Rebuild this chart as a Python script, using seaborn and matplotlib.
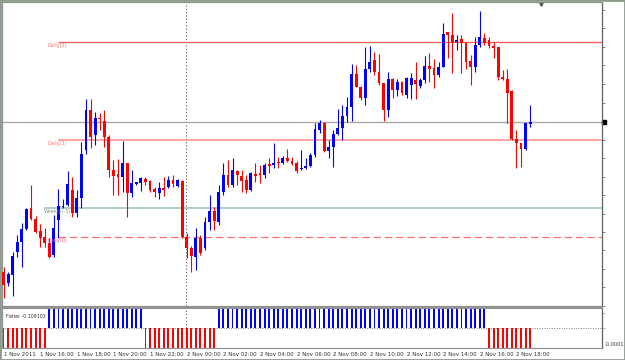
import matplotlib
matplotlib.use("Agg")
import matplotlib.pyplot as plt
import matplotlib.transforms as mtransforms
from matplotlib.patches import Rectangle
import seaborn as sns
import numpy as np
import pandas as pd

# M15 candles, 1 Nov 2011 14:00 -> 2 Nov 2011 18:45
opens = [1.3728, 1.3717, 1.3725, 1.3748, 1.3758, 1.3771, 1.3792, 1.3781, 1.3769, 1.3763,
         1.3757, 1.3745, 1.3780, 1.3793, 1.3795, 1.3810, 1.3787, 1.3802, 1.3850, 1.3890,
         1.3865, 1.3882, 1.3879, 1.3863, 1.3830, 1.3826, 1.3823, 1.3837, 1.3807, 1.3816,
         1.3817, 1.3821, 1.3819, 1.3811, 1.3807, 1.3812, 1.3813, 1.3820, 1.3814, 1.3819,
         1.3763, 1.3752, 1.3743, 1.3762, 1.3752, 1.3778, 1.3789, 1.3778, 1.3808, 1.3825,
         1.3815, 1.3829, 1.3824, 1.3820, 1.3810, 1.3826, 1.3827, 1.3825, 1.3836, 1.3835,
         1.3838, 1.3837, 1.3842, 1.3839, 1.3837, 1.3831, 1.3832, 1.3834, 1.3845, 1.3870,
         1.3877, 1.3849, 1.3853, 1.3866, 1.3872, 1.3884, 1.3893, 1.3926, 1.3913, 1.3902,
         1.3931, 1.3940, 1.3928, 1.3917, 1.3890, 1.3921, 1.3910, 1.3918, 1.3905, 1.3915,
         1.3920, 1.3914, 1.3920, 1.3934, 1.3932, 1.3925, 1.3933, 1.3968, 1.3965, 1.3958,
         1.3961, 1.3957, 1.3939, 1.3933, 1.3955, 1.3962, 1.3960, 1.3954, 1.3953, 1.3923,
         1.3921, 1.3909, 1.3861, 1.3857, 1.3851, 1.3876]
highs = [1.3733, 1.3728, 1.3748, 1.3765, 1.3777, 1.3792, 1.3815, 1.3784, 1.3776, 1.3772,
         1.3762, 1.3785, 1.3811, 1.3801, 1.3829, 1.3823, 1.3810, 1.3858, 1.3901, 1.3901,
         1.3888, 1.3887, 1.3890, 1.3865, 1.3840, 1.3841, 1.3859, 1.3837, 1.3830, 1.3818,
         1.3823, 1.3823, 1.3820, 1.3813, 1.3818, 1.3823, 1.3824, 1.3825, 1.3821, 1.3820,
         1.3767, 1.3754, 1.3772, 1.3765, 1.3783, 1.3805, 1.3793, 1.3815, 1.3837, 1.3840,
         1.3842, 1.3830, 1.3830, 1.3825, 1.3828, 1.3837, 1.3835, 1.3837, 1.3842, 1.3857,
         1.3843, 1.3844, 1.3851, 1.3843, 1.3839, 1.3850, 1.3842, 1.3847, 1.3877, 1.3880,
         1.3878, 1.3860, 1.3870, 1.3891, 1.3895, 1.3903, 1.3936, 1.3935, 1.3914, 1.3953,
         1.3954, 1.3948, 1.3946, 1.3917, 1.3928, 1.3922, 1.3921, 1.3919, 1.3923, 1.3927,
         1.3938, 1.3922, 1.3944, 1.3947, 1.3941, 1.3938, 1.3977, 1.3968, 1.3987, 1.3965,
         1.3965, 1.3958, 1.3945, 1.3963, 1.3989, 1.3967, 1.3963, 1.3958, 1.3953, 1.3930,
         1.3931, 1.3910, 1.3870, 1.3857, 1.3877, 1.3895]
lows = [1.3702, 1.3714, 1.3704, 1.3743, 1.3733, 1.3770, 1.3780, 1.3767, 1.3753, 1.3753,
        1.3742, 1.3743, 1.3762, 1.3792, 1.3794, 1.3783, 1.3783, 1.3792, 1.3846, 1.3852,
        1.3855, 1.3870, 1.3853, 1.3823, 1.3805, 1.3805, 1.3808, 1.3783, 1.3803, 1.3815,
        1.3809, 1.3815, 1.3808, 1.3803, 1.3801, 1.3804, 1.3812, 1.3813, 1.3813, 1.3762,
        1.3742, 1.3728, 1.3730, 1.3745, 1.3750, 1.3770, 1.3770, 1.3775, 1.3805, 1.3813,
        1.3813, 1.3815, 1.3808, 1.3807, 1.3809, 1.3818, 1.3817, 1.3822, 1.3827, 1.3832,
        1.3832, 1.3836, 1.3838, 1.3835, 1.3827, 1.3830, 1.3831, 1.3833, 1.3843, 1.3867,
        1.3848, 1.3842, 1.3833, 1.3865, 1.3860, 1.3878, 1.3879, 1.3913, 1.3900, 1.3895,
        1.3928, 1.3925, 1.3915, 1.3879, 1.3883, 1.3902, 1.3904, 1.3905, 1.3902, 1.3901,
        1.3901, 1.3912, 1.3917, 1.3918, 1.3912, 1.3923, 1.3933, 1.3942, 1.3927, 1.3950,
        1.3927, 1.3931, 1.3915, 1.3928, 1.3953, 1.3955, 1.3952, 1.3942, 1.3920, 1.3920,
        1.3877, 1.3860, 1.3832, 1.3833, 1.3850, 1.3873]
closes = [1.3715, 1.3726, 1.3744, 1.3758, 1.3771, 1.3791, 1.3781, 1.3768, 1.3762, 1.3757,
          1.3743, 1.3772, 1.3794, 1.3794, 1.3816, 1.3787, 1.3802, 1.3846, 1.3890, 1.3863,
          1.3882, 1.3881, 1.3863, 1.3830, 1.3824, 1.3823, 1.3837, 1.3807, 1.3817, 1.3818,
          1.3822, 1.3818, 1.3810, 1.3808, 1.3812, 1.3810, 1.3820, 1.3816, 1.3820, 1.3763,
          1.3752, 1.3744, 1.3762, 1.3747, 1.3778, 1.3789, 1.3779, 1.3808, 1.3825, 1.3815,
          1.3830, 1.3825, 1.3819, 1.3810, 1.3827, 1.3824, 1.3825, 1.3835, 1.3834, 1.3837,
          1.3837, 1.3842, 1.3839, 1.3836, 1.3829, 1.3832, 1.3834, 1.3845, 1.3871, 1.3877,
          1.3849, 1.3853, 1.3866, 1.3872, 1.3884, 1.3893, 1.3926, 1.3913, 1.3902, 1.3931,
          1.3938, 1.3928, 1.3917, 1.3890, 1.3921, 1.3910, 1.3918, 1.3907, 1.3922, 1.3922,
          1.3916, 1.3920, 1.3934, 1.3931, 1.3925, 1.3933, 1.3966, 1.3965, 1.3957, 1.3960,
          1.3957, 1.3938, 1.3933, 1.3955, 1.3963, 1.3957, 1.3954, 1.3952, 1.3923, 1.3921,
          1.3907, 1.3861, 1.3857, 1.3851, 1.3877, 1.3878]

# Fisher histogram sign (value, number of bars)
fisher_runs = [(-1, 10), (1, 21), (-1, 16), (1, 59), (-1, 10)]
fisher_last = "-0.109103"

# pivot levels
levels = {"Daily(2)": 1.3958, "Daily(1)": 1.3860, "Weekly(-3)": 1.3792, "Daily(0)": 1.3763}
bid = 1.3878

tick_labels = ["1 Nov 2011", "1 Nov 16:00", "1 Nov 18:00", "1 Nov 20:00", "1 Nov 22:00",
               "2 Nov 00:00", "2 Nov 02:00", "2 Nov 04:00", "2 Nov 06:00", "2 Nov 08:00",
               "2 Nov 10:00", "2 Nov 12:00", "2 Nov 14:00", "2 Nov 16:00", "2 Nov 18:00"]

sns.set_theme(style="white")
plt.rcParams["font.family"] = ["DejaVu Sans"]

df = pd.DataFrame({"o": opens, "h": highs, "l": lows, "c": closes})
df["i"] = np.arange(len(df))
df["up"] = df["c"] >= df["o"]
fisher = []
for v, n in fisher_runs:
    fisher += [v] * n
df["fisher"] = fisher
df["fdir"] = np.where(df["fisher"] > 0, "up", "down")

BLUE = "#0000ff"
RED = "#ff0000"

fig = plt.figure(figsize=(6.25, 3.6), dpi=100)
ax = fig.add_axes([2 / 625, 1 - 306 / 360, 600 / 625, 304 / 360])
ax2 = fig.add_axes([2 / 625, 1 - 348 / 360, 600 / 625, 40 / 360])

cols = np.where(df["up"], BLUE, RED)
ax.vlines(df["i"], df["l"], df["h"], colors=cols, lw=0.8, zorder=3)
body_lo = np.minimum(df["o"], df["c"])
body_h = np.maximum(np.abs(df["c"] - df["o"]), 0.00009)
ax.bar(df["i"], body_h, bottom=body_lo, width=0.62, color=cols, linewidth=0, zorder=4)

x_left, x_right = -0.33, 130.68
ax.set_xlim(x_left, x_right)
ax.set_ylim(1.3694, 1.3998)

# pivot lines
ax.hlines(bid, x_left, x_right, color="#a8a8a8", lw=1, zorder=2)
ax.hlines(levels["Daily(2)"], 12, x_right, color="#ff5a5a", lw=0.9, zorder=2)
ax.hlines(levels["Daily(1)"], 12, x_right, color="#ff9c9c", lw=1.3, zorder=2)
ax.hlines(levels["Weekly(-3)"], 8.85, x_right, color="#a6cccc", lw=1.3, zorder=2)
ax.hlines(levels["Daily(0)"], 12, x_right, color="#ff7070", lw=0.9,
          linestyles=(0, (6, 3)), zorder=2)

lab_col = {"Daily(2)": "#ff6a6a", "Daily(1)": "#ff7a7a",
           "Weekly(-3)": "#8c9a78", "Daily(0)": "#e8608c"}
lab_x = {"Daily(2)": 9.7, "Daily(1)": 9.7, "Weekly(-3)": 8.85, "Daily(0)": 9.7}
for name, val in levels.items():
    ax.annotate(name, (lab_x[name], val), xytext=(0, -0.8), textcoords="offset points",
                fontsize=3.6, color=lab_col[name], va="top", ha="left", zorder=5)

# day separator
for a in (ax, ax2):
    a.axvline(39.85, color="#555555", lw=0.8, ls=(0, (1, 2)), zorder=1)

# right price scale
ax.yaxis.tick_right()
ax.set_yticks(1.3990 - 0.00185 * np.arange(17))
ax.set_yticklabels([])
ax.tick_params(axis="y", length=2, width=0.6, color="#707070", direction="out")
ax.set_xticks([])
blend = mtransforms.blended_transform_factory(ax.transAxes, ax.transData)
ax.plot([1.004], [bid], marker="s", ms=2.4, color="black", transform=blend, clip_on=False)
ax.plot([0.898], [0.992], marker="v", ms=2.5, color="#505050",
        transform=ax.transAxes, clip_on=False)

for s in ax.spines.values():
    s.set_color("#909090")
    s.set_linewidth(0.9)
ax.spines["right"].set_color("#606060")

# Fisher panel
sns.barplot(data=df, x="i", y="fisher", hue="fdir", palette={"up": BLUE, "down": RED},
            native_scale=True, width=0.42, saturation=1, errorbar=None, legend=False,
            linewidth=0, ax=ax2)
ax2.set_xlim(x_left, x_right)
ax2.set_ylim(-1, 1)
ax2.axhline(0, color="#808080", lw=0.7, ls=(0, (1, 1.5)), zorder=0)
ax2.set_xlabel("")
ax2.set_ylabel("")
ax2.set_xticks(np.arange(0, 113, 8))
ax2.set_xticklabels(tick_labels, ha="left")
ax2.tick_params(axis="x", length=2, width=0.5, pad=0.6, labelsize=4, color="#606060",
                labelcolor="#303030", direction="out")
ax2.yaxis.tick_right()
ax2.set_yticks([0.75, 0])
ax2.set_yticklabels([])
ax2.tick_params(axis="y", length=2, width=0.6, color="#ffa040", direction="out")
blend2 = mtransforms.blended_transform_factory(ax2.transAxes, ax2.transData)
ax2.text(1.005, -0.8, "-0.0001", transform=blend2, fontsize=3.6, color="#303030",
         va="center", ha="left", clip_on=False)
ax2.text(0.006, 0.86, "Fisher " + fisher_last, transform=ax2.transAxes, fontsize=3.4,
         color="#303030", va="top", ha="left")
for s in ax2.spines.values():
    s.set_color("#909090")
    s.set_linewidth(0.9)
ax2.spines["top"].set_linewidth(1.4)
ax2.spines["right"].set_color("#606060")

fig.patches.append(Rectangle((0, 0), 1, 1, transform=fig.transFigure, fill=False,
                             edgecolor="#8c9c8c", lw=2))

fig.savefig("out.png", dpi=100)
